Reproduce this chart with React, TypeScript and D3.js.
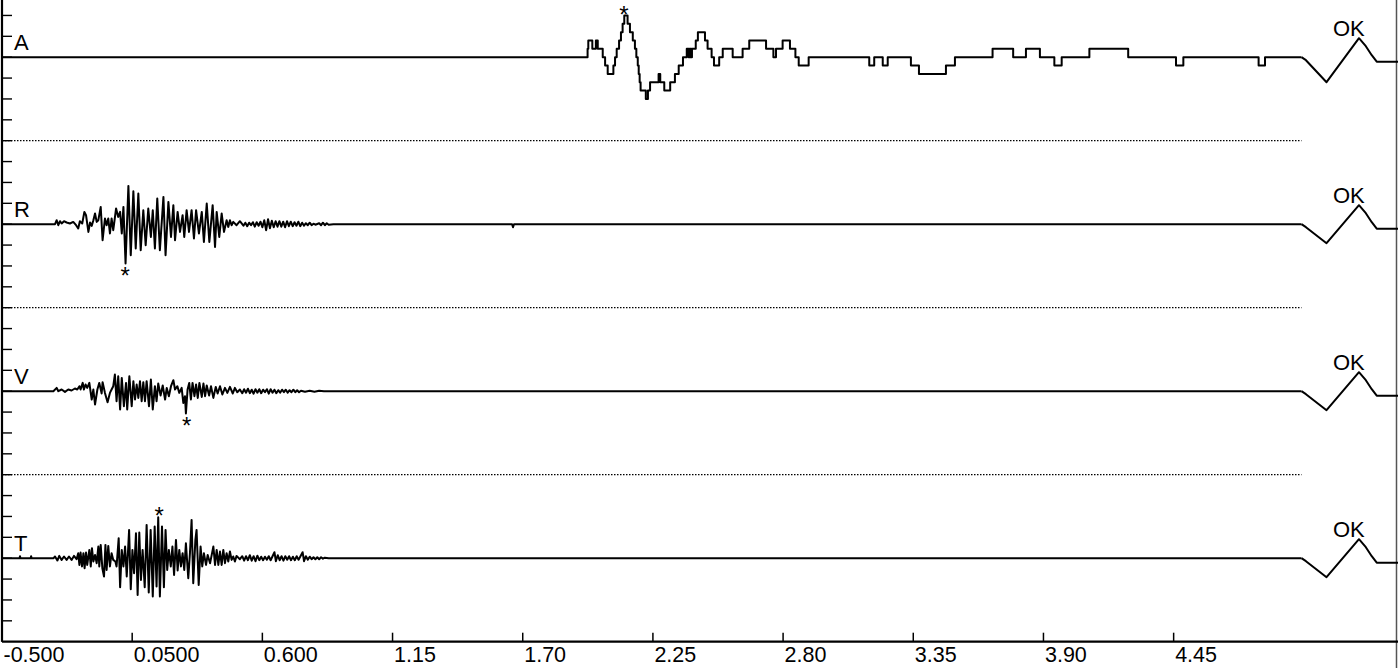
import { useMemo } from "react";
import { curveStepAfter, line, range, scaleLinear } from "d3";

const totalWidth = 1398;
const totalHeight = 668;
const axisY = 641.7;
const font = "'Liberation Sans', Arial, sans-serif";

// time axis (seconds)
const timeDomain = [-0.5, 5.4];
const timeTicks = [-0.5, 0.05, 0.6, 1.15, 1.7, 2.25, 2.8, 3.35, 3.9, 4.45];
const timeTickLabels = ["-0.500", "0.0500", "0.600", "1.15", "1.70", "2.25", "2.80", "3.35", "3.90", "4.45"];
const traceEnd = 4.99;

// channels, baselines in frame units (1 unit = one left tick)
const channelNames = ["A", "R", "V", "T"];
const channelBase = [28, 20, 12, 4];
const frameTop = 30.74;

// A: stepped levels [time, level]
const aSteps: [number, number][] = [
  [-0.5, 0], [1.974, 1], [1.977, 2], [1.994, 1], [2.009, 2], [2.017, 1], [2.038, 0],
  [2.048, -1], [2.059, -2], [2.083, -1], [2.09, 0], [2.097, 1], [2.107, 2], [2.115, 3],
  [2.122, 4], [2.129, 5], [2.143, 4], [2.153, 3], [2.165, 2], [2.174, 1], [2.18, 0],
  [2.186, -1], [2.19, -2], [2.194, -3], [2.198, -4], [2.22, -5], [2.229, -4], [2.238, -3],
  [2.274, -2], [2.281, -3], [2.298, -4], [2.323, -3], [2.343, -2], [2.359, -1], [2.377, 0],
  [2.393, 1], [2.401, 0], [2.405, 1], [2.411, 0], [2.415, 1], [2.431, 2], [2.44, 3],
  [2.47, 2], [2.481, 1], [2.498, 0], [2.508, -1], [2.53, 0], [2.545, 1], [2.587, 0],
  [2.629, 1], [2.657, 2], [2.728, 1], [2.759, 0], [2.77, 1], [2.798, 2], [2.829, 1],
  [2.852, 0], [2.866, -1], [2.908, 0], [3.164, -1], [3.185, 0], [3.221, -1], [3.242, 0],
  [3.34, -1], [3.374, -2], [3.488, -1], [3.526, 0], [3.685, 1], [3.772, 0], [3.826, 1],
  [3.885, 0], [3.946, -1], [3.977, 0], [4.094, 1], [4.258, 0], [4.46, -1], [4.491, 0],
  [4.809, -1], [4.836, 0], [4.99, 0],
];

// R, V, T: [time, amplitude]
const radial: [number, number][] = [
  [-0.5, 0], [-0.276, 0], [-0.269, 4], [-0.262, -1], [-0.255, 3], [-0.248, 0.7], [-0.238, 3],
  [-0.227, 1.7], [-0.213, 0.7], [-0.199, 2.3], [-0.187, -1], [-0.178, -4.3], [-0.171, 3],
  [-0.161, 0.7], [-0.152, 12.3], [-0.145, 9], [-0.135, -7.7], [-0.128, 1.7], [-0.121, -1.7],
  [-0.114, 4], [-0.107, 10.7], [-0.1, 2.3], [-0.093, 4], [-0.083, 17.3], [-0.075, -16],
  [-0.065, 5.7], [-0.058, -1], [-0.051, 5.7], [-0.044, -9.3], [-0.037, 5.7], [-0.03, -6],
  [-0.018, 15.7], [-0.009, 7.3], [-0.001, 12.3], [0.006, -9.3], [0.013, 17.3], [0.022, -39.3],
  [0.034, 38.3], [0.044, -31], [0.055, 33], [0.065, -24.3], [0.076, 30.7], [0.086, -26],
  [0.097, 14], [0.107, -21], [0.118, 15.7], [0.129, -12.7], [0.137, 14], [0.146, -24.3],
  [0.156, 25.7], [0.167, -26], [0.182, 27.3], [0.191, -31], [0.203, 22.3], [0.214, -12.7],
  [0.224, 19], [0.231, -16], [0.242, 12.3], [0.252, -7.7], [0.263, 9], [0.27, -12.7],
  [0.28, 14], [0.29, -7.7], [0.301, 14], [0.311, -14.3], [0.32, 14], [0.332, -9.3],
  [0.344, 12.3], [0.353, -17.7], [0.365, 20.7], [0.376, -17.7], [0.39, 19], [0.4, -22.7],
  [0.407, 12.3], [0.418, -12.7], [0.428, 10.7], [0.438, -7.7], [0.449, 4], [0.456, -2.7],
  [0.463, 4], [0.47, -1], [0.477, 2.3], [0.491, -1], [0.505, 3],
  [0.52, -1.5], [0.528, 1.5], [0.536, -2], [0.544, 1.5], [0.552, -1], [0.56, 2], [0.568, -2.5],
  [0.576, 2], [0.584, -1.5], [0.592, 2.5], [0.6, -3], [0.608, 4], [0.616, -6], [0.624, 5],
  [0.632, -4], [0.64, 3.5], [0.648, -3], [0.656, 3], [0.664, -2.5], [0.672, 3], [0.68, -2.5],
  [0.688, 2.5], [0.696, -3], [0.704, 3], [0.712, -2], [0.72, 2.5], [0.728, -2], [0.736, 2],
  [0.744, -1.5], [0.752, 2.5], [0.76, -2], [0.768, 1.5], [0.776, -1.5], [0.784, 1], [0.792, -1],
  [0.8, 1.5], [0.808, -1], [0.816, 0.5], [0.824, -0.5], [0.84, 1], [0.848, -1], [0.856, 1.5],
  [0.864, -1], [0.872, 1], [0.88, -0.5], [0.9, 0], [1.655, 0], [1.659, -3], [1.663, 0],
  [4.99, 0],
];

const vertical: [number, number][] = [
  [-0.5, 0], [-0.283, 0], [-0.269, 3.3], [-0.262, 0], [-0.248, 1.7], [-0.234, -0.7], [-0.22, 1.7],
  [-0.206, 0.7], [-0.192, 2.7], [-0.182, 1.7], [-0.173, 5], [-0.168, 1.7], [-0.159, 8.3],
  [-0.154, 1.7], [-0.147, 6.7], [-0.14, 3.3], [-0.131, 8.3], [-0.121, -8.3], [-0.114, 1.7],
  [-0.107, -13.3], [-0.097, 1.7], [-0.089, 8.3], [-0.079, -2.3], [-0.075, 9], [-0.065, -1.7],
  [-0.054, -11], [-0.044, -1.7], [-0.037, 1.7], [-0.03, 5], [-0.023, 16.7], [-0.016, -10],
  [-0.009, 15], [-0.001, -18.3], [0.006, 13.3], [0.015, -15], [0.024, 8.3], [0.029, -18.3],
  [0.038, 15], [0.048, -15], [0.055, 10], [0.062, -8.3], [0.069, 6.7], [0.076, -6.7],
  [0.083, 10], [0.09, -10], [0.097, 9], [0.104, -10], [0.111, 10], [0.121, -15], [0.129, 11.7],
  [0.137, -18.3], [0.146, 5], [0.153, -10], [0.16, 7.7], [0.17, -4.3], [0.179, 5.7],
  [0.189, -8.3], [0.196, 3.3], [0.205, -5], [0.214, 5], [0.224, 11], [0.231, 1.7], [0.241, 5],
  [0.249, -1.7], [0.259, 3.3], [0.266, -11.7], [0.273, -5], [0.277, -22.3], [0.284, 1.7],
  [0.291, 8.3], [0.298, -8.3], [0.305, 8.3], [0.313, -5], [0.32, 6.7], [0.327, -6.7],
  [0.334, 8.3], [0.344, -5.7], [0.351, 7.7], [0.358, -5], [0.365, 5.7], [0.375, -4.3],
  [0.383, 5], [0.393, -6.7], [0.403, 4.3], [0.411, -2.3], [0.421, 5], [0.431, -3.3],
  [0.442, 3.3], [0.452, -1.7], [0.463, 4.3], [0.475, -2.3], [0.484, 3.3], [0.494, -1],
  [0.505, 1.7], [0.515, -2], [0.523, 2], [0.531, -1.5], [0.539, 2.5], [0.547, -2], [0.555, 1.5],
  [0.563, -2.5], [0.571, 2], [0.579, -1.5], [0.587, 2], [0.595, -2], [0.603, 1.5], [0.611, -1],
  [0.619, 2], [0.627, -2.5], [0.635, 2], [0.643, -1.5], [0.651, 1.5], [0.659, -2], [0.667, 1],
  [0.675, -1.5], [0.683, 1.5], [0.691, -1], [0.699, 1.5], [0.707, -1.5], [0.715, 1], [0.723, -1],
  [0.731, 1.5], [0.739, -1], [0.747, 1], [0.755, -1], [0.763, 0.5], [0.78, -0.5], [0.8, 0.5],
  [0.82, -0.5], [0.84, 0.5], [0.86, 0], [4.99, 0],
];

const transverse: [number, number][] = [
  [-0.5, 0], [-0.426, 0], [-0.424, 2], [-0.422, 0], [-0.379, 0], [-0.377, 2], [-0.375, 0],
  [-0.282, 0], [-0.276, 1.7], [-0.266, -2.3], [-0.258, 2.3], [-0.248, -1.7], [-0.238, 1.7],
  [-0.227, -1.7], [-0.217, 1.7], [-0.206, -1.7], [-0.196, 2.3], [-0.185, -1], [-0.178, 5],
  [-0.173, -6.7], [-0.168, 5.7], [-0.162, -8.3], [-0.156, 5], [-0.151, -10], [-0.145, 5.7],
  [-0.14, -6.7], [-0.131, 8.3], [-0.125, -8.3], [-0.12, 10], [-0.114, -3.3], [-0.107, 3.3],
  [-0.1, -5], [-0.093, 11.7], [-0.089, -8.3], [-0.083, 13.3], [-0.076, -10], [-0.069, -18.3],
  [-0.063, 13.3], [-0.058, -11.7], [-0.051, 12.3], [-0.044, -8.3], [-0.037, 5], [-0.03, -1.7],
  [-0.021, -3.3], [-0.016, -8.3], [-0.007, 20], [-0.001, -29], [0.006, 8.3], [0.013, -8.3],
  [0.02, 11.7], [0.027, -18.3], [0.037, 28.3], [0.044, -31], [0.051, 8.3], [0.058, -15],
  [0.066, 25], [0.073, -36.7], [0.08, 25.7], [0.087, -21.7], [0.094, 8.3], [0.103, -29],
  [0.111, 33.3], [0.12, -34.3], [0.128, 28.3], [0.137, -38.3], [0.145, 31.7], [0.153, -28.3],
  [0.16, 41], [0.167, -38.3], [0.176, 31.7], [0.184, -29], [0.191, 28.3], [0.198, -11.7],
  [0.205, 8.3], [0.213, -8.3], [0.22, 11.7], [0.227, -16.7], [0.235, 18.3], [0.242, -12.3],
  [0.249, 8.3], [0.256, -8.3], [0.263, 5], [0.27, -11.7], [0.277, 15], [0.287, -20],
  [0.294, 5], [0.301, 38.3], [0.308, -25], [0.317, 18.3], [0.322, 28.3], [0.331, -26.7],
  [0.339, 11.7], [0.346, -8.3], [0.353, 5], [0.362, -6.7], [0.369, 3.3], [0.379, -5],
  [0.386, 3.3], [0.393, 11.7], [0.4, -6.7], [0.407, 8.3], [0.414, -6.7], [0.421, 6.7],
  [0.428, -6.7], [0.435, 8.3], [0.442, -5], [0.449, 5], [0.456, -3.3], [0.463, 6.7],
  [0.47, -1.7], [0.477, 1.7], [0.484, -3.3], [0.491, 2.3], [0.505, -1],
  [0.515, 2], [0.523, -2.5], [0.531, 2], [0.539, -2], [0.547, 3], [0.555, -2.5], [0.563, 2],
  [0.571, -3], [0.579, 2.5], [0.587, -2], [0.595, 1.5], [0.603, -2], [0.611, 1.5], [0.619, -1.5],
  [0.627, 2], [0.635, -2], [0.643, 2], [0.651, 6], [0.657, -3], [0.665, 3], [0.673, -2],
  [0.681, 2], [0.689, -2.5], [0.697, 2], [0.705, -1.5], [0.713, 2], [0.721, -2], [0.729, 1.5],
  [0.737, -2], [0.745, 2], [0.753, -1.5], [0.761, 2], [0.77, 6], [0.776, -3], [0.784, 2],
  [0.792, -1.5], [0.8, 1.5], [0.808, -1], [0.816, 1], [0.824, -1], [0.832, 1], [0.84, -1],
  [0.848, 1], [0.856, -0.5], [0.864, 0.5], [0.88, 0], [4.99, 0],
];

// calibration pulses after the trace, "OK"
const calPulseA: [number, number][] = [
  [4.99, 0], [5.009, -3], [5.096, -25], [5.233, 19], [5.262, 11], [5.287, 2], [5.308, -4.5], [5.4, -4.5],
];
const calPulse: [number, number][] = [
  [4.99, 0], [5.009, -3], [5.096, -19], [5.233, 19], [5.262, 11], [5.287, 2], [5.308, -4.5], [5.4, -4.5],
];

// picks (*): channel, time, amplitude of the peak, side
const pickChannel = [0, 1, 2, 3];
const pickTime = [2.128, 0.02, 0.28, 0.164];
const pickAmp = [5, -39.3, -22.3, 41];
const pickAbove = [true, false, false, true];

export default function App() {
  const { xScale, frameY, ampScales, levelScale } = useMemo(() => {
    const xScale = scaleLinear().domain(timeDomain).range([2, 1398.5]);
    const frameY = scaleLinear().domain([0, frameTop]).range([axisY, 0]);
    const ampScales = channelBase.map((b) =>
      scaleLinear().domain([-83.5, 83.5]).range([frameY(b - 4), frameY(b + 4)]),
    );
    const levelScale = scaleLinear().domain([-10, 10]).range([frameY(channelBase[0] - 4), frameY(channelBase[0] + 4)]);
    return { xScale, frameY, ampScales, levelScale };
  }, []);

  const traces = [null, radial, vertical, transverse];
  const starSize = 24;

  return (
    <svg
      width={totalWidth}
      height={totalHeight}
      viewBox={`0 0 ${totalWidth} ${totalHeight}`}
      style={{ position: "absolute", left: 0, top: 0, background: "white" }}
      fontFamily={font}
    >
      {/* left frame ticks */}
      <line x1={2} x2={2} y1={0} y2={axisY} stroke="black" strokeWidth={2.2} />
      {range(1, 31).map((u) => (
        <line key={u} x1={2} x2={12} y1={frameY(u)} y2={frameY(u)} stroke="black" strokeWidth={1.4} />
      ))}
      {/* right border */}
      <line x1={1396.5} x2={1396.5} y1={0} y2={totalHeight} stroke="#555" strokeWidth={1.5} />

      {/* separators */}
      {[24, 16, 8].map((u) => (
        <line
          key={u}
          x1={2}
          x2={xScale(traceEnd)}
          y1={frameY(u)}
          y2={frameY(u)}
          stroke="black"
          strokeWidth={1.2}
          strokeDasharray="1.5 1.5"
        />
      ))}

      {channelNames.map((name, i) => {
        const amp = ampScales[i];
        const base = frameY(channelBase[i]);
        const pulseLine = line<[number, number]>()
          .x((d) => xScale(d[0]))
          .y((d) => amp(d[1]));
        let body = "";
        if (i === 0) {
          body =
            line<[number, number]>()
              .x((d) => xScale(d[0]))
              .y((d) => levelScale(d[1]))
              .curve(curveStepAfter)(aSteps) ?? "";
        } else {
          body = pulseLine(traces[i] as [number, number][]) ?? "";
        }
        return (
          <g key={name}>
            <path d={body} fill="none" stroke="black" strokeWidth={2} strokeLinejoin="round" />
            <path
              d={pulseLine(i === 0 ? calPulseA : calPulse) ?? ""}
              fill="none"
              stroke="black"
              strokeWidth={2}
              strokeLinejoin="round"
            />
            <text x={14} y={base - 7} fontSize={22}>
              {name}
            </text>
            <text x={1333} y={base - 21} fontSize={22}>
              OK
            </text>
          </g>
        );
      })}

      {/* picks */}
      {pickChannel.map((c, k) => {
        const py = c === 0 ? levelScale(pickAmp[k]) : ampScales[c](pickAmp[k]);
        const cy = pickAbove[k] ? py - 6.5 : py + 7;
        return (
          <text key={k} x={xScale(pickTime[k])} y={cy + starSize * 0.573} fontSize={starSize} textAnchor="middle">
            *
          </text>
        );
      })}

      {/* time axis */}
      <line x1={2} x2={totalWidth} y1={axisY} y2={axisY} stroke="black" strokeWidth={2.2} />
      {timeTicks.map((t, i) => (
        <g key={t}>
          <line x1={xScale(t)} x2={xScale(t)} y1={axisY} y2={axisY - 9} stroke="black" strokeWidth={1.5} />
          <text x={xScale(t) + 1.5} y={662} fontSize={21.5}>
            {timeTickLabels[i]}
          </text>
        </g>
      ))}
    </svg>
  );
}
